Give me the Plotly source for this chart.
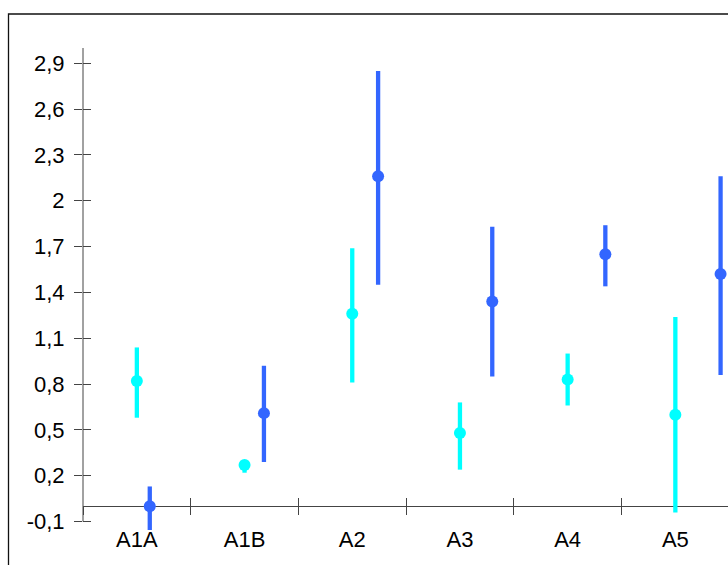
import plotly.graph_objects as go

categories = ["A1A", "A1B", "A2", "A3", "A4", "A5"]

cyan_mean = [0.82, 0.27, 1.26, 0.48, 0.83, 0.60]
cyan_low = [0.58, 0.22, 0.81, 0.24, 0.66, -0.04]
cyan_high = [1.04, 0.29, 1.69, 0.68, 1.00, 1.24]

blue_offset = [0.12, 0.18, 0.24, 0.30, 0.35, 0.42]
blue_mean = [0.0, 0.61, 2.16, 1.34, 1.65, 1.52]
blue_low = [-0.20, 0.29, 1.45, 0.85, 1.44, 0.86]
blue_high = [0.13, 0.92, 2.85, 1.83, 1.84, 2.16]

y_tickvals = [-0.1, 0.2, 0.5, 0.8, 1.1, 1.4, 1.7, 2.0, 2.3, 2.6, 2.9]
y_ticktext = ["-0,1", "0,2", "0,5", "0,8", "1,1", "1,4", "1,7", "2", "2,3", "2,6", "2,9"]

CYAN = "#00FFFF"
BLUE = "#3366FF"
AX = "#444444"
FONT = dict(family="Liberation Sans, Arial, sans-serif", size=22, color="#000000")

W, H = 728, 565
ML, MR, MT, MB = 83, 0, 48, 35
pw = W - ML - MR
ph = H - MT - MB
y_range = [-0.155, 3.0]
n = len(categories)
x_range = [-0.5, -0.5 + pw / 107.7]

x_centers = list(range(n))
x_bounds = [i - 0.5 for i in range(n + 2)]
blue_x = [i + o for i, o in zip(x_centers, blue_offset)]

fig = go.Figure()
fig.add_trace(go.Scatter(
    x=x_centers, y=cyan_mean, mode="markers",
    marker=dict(color=CYAN, size=12),
    error_y=dict(type="data", symmetric=False,
                 array=[h - m for h, m in zip(cyan_high, cyan_mean)],
                 arrayminus=[m - l for m, l in zip(cyan_mean, cyan_low)],
                 color=CYAN, thickness=4.3, width=0),
    showlegend=False, hoverinfo="skip",
))
fig.add_trace(go.Scatter(
    x=blue_x, y=blue_mean, mode="markers",
    marker=dict(color=BLUE, size=12),
    error_y=dict(type="data", symmetric=False,
                 array=[h - m for h, m in zip(blue_high, blue_mean)],
                 arrayminus=[m - l for m, l in zip(blue_mean, blue_low)],
                 color=BLUE, thickness=4.3, width=0),
    showlegend=False, hoverinfo="skip",
))
# invisible helper traces so the tick-only overlay axes get drawn
for xa, ya in (("x2", "y2"), ("x3", "y")):
    fig.add_trace(go.Scatter(x=x_centers, y=cyan_mean, mode="markers",
                             marker=dict(opacity=0), xaxis=xa, yaxis=ya,
                             showlegend=False, hoverinfo="skip"))

zero_pos = (0 - y_range[0]) / (y_range[1] - y_range[0])

tick_axis = dict(range=x_range, overlaying="x", anchor="free", position=zero_pos,
                 tickmode="array", tickvals=x_bounds, ticklen=8,
                 tickcolor=AX, tickwidth=1, showticklabels=False, showline=False,
                 showgrid=False, zeroline=False)

fig.update_layout(
    width=W, height=H,
    margin=dict(l=ML, r=MR, t=MT, b=MB, pad=0),
    paper_bgcolor="white", plot_bgcolor="white",
    font=FONT,
    xaxis=dict(range=x_range, tickmode="array", tickvals=x_centers, ticktext=categories,
               ticks="", showline=False, showgrid=False, zeroline=False,
               anchor="free", position=6.5 / ph, side="bottom", ticklabelstandoff=0,
               tickfont=FONT),
    xaxis2=dict(tick_axis, ticks="outside"),
    xaxis3=dict(tick_axis, ticks="inside"),
    yaxis=dict(range=y_range, tickmode="array", tickvals=y_tickvals, ticktext=y_ticktext,
               ticks="outside", ticklen=8, tickcolor=AX, tickwidth=1,
               showline=False, showgrid=False, zeroline=True, zerolinecolor=AX,
               zerolinewidth=1, ticklabelstandoff=5, tickfont=FONT),
    yaxis2=dict(range=y_range, overlaying="y", anchor="x", side="left",
                tickmode="array", tickvals=y_tickvals, ticks="inside", ticklen=8,
                tickcolor=AX, tickwidth=1, showticklabels=False, showline=False,
                showgrid=False, zeroline=False),
)

# y axis line from lowest tick to top of plot
fig.add_shape(type="line", xref="paper", yref="y", x0=0, x1=0,
              y0=y_tickvals[0], y1=y_range[1], line=dict(color=AX, width=1))

# outer frame (cropped on the right and bottom)
fig.add_shape(type="rect", xref="paper", yref="paper",
              x0=(8.5 - ML) / pw, x1=(W + 20 - ML) / pw,
              y0=-(MB + 20) / ph, y1=1 + (MT - 14) / ph,
              line=dict(color="#111111", width=1.3), layer="below")

fig.write_html(
    "out.html",
    config={"displayModeBar": False, "staticPlot": True},
    post_script="document.body.style.margin='0';document.body.style.overflow='hidden';",
)
